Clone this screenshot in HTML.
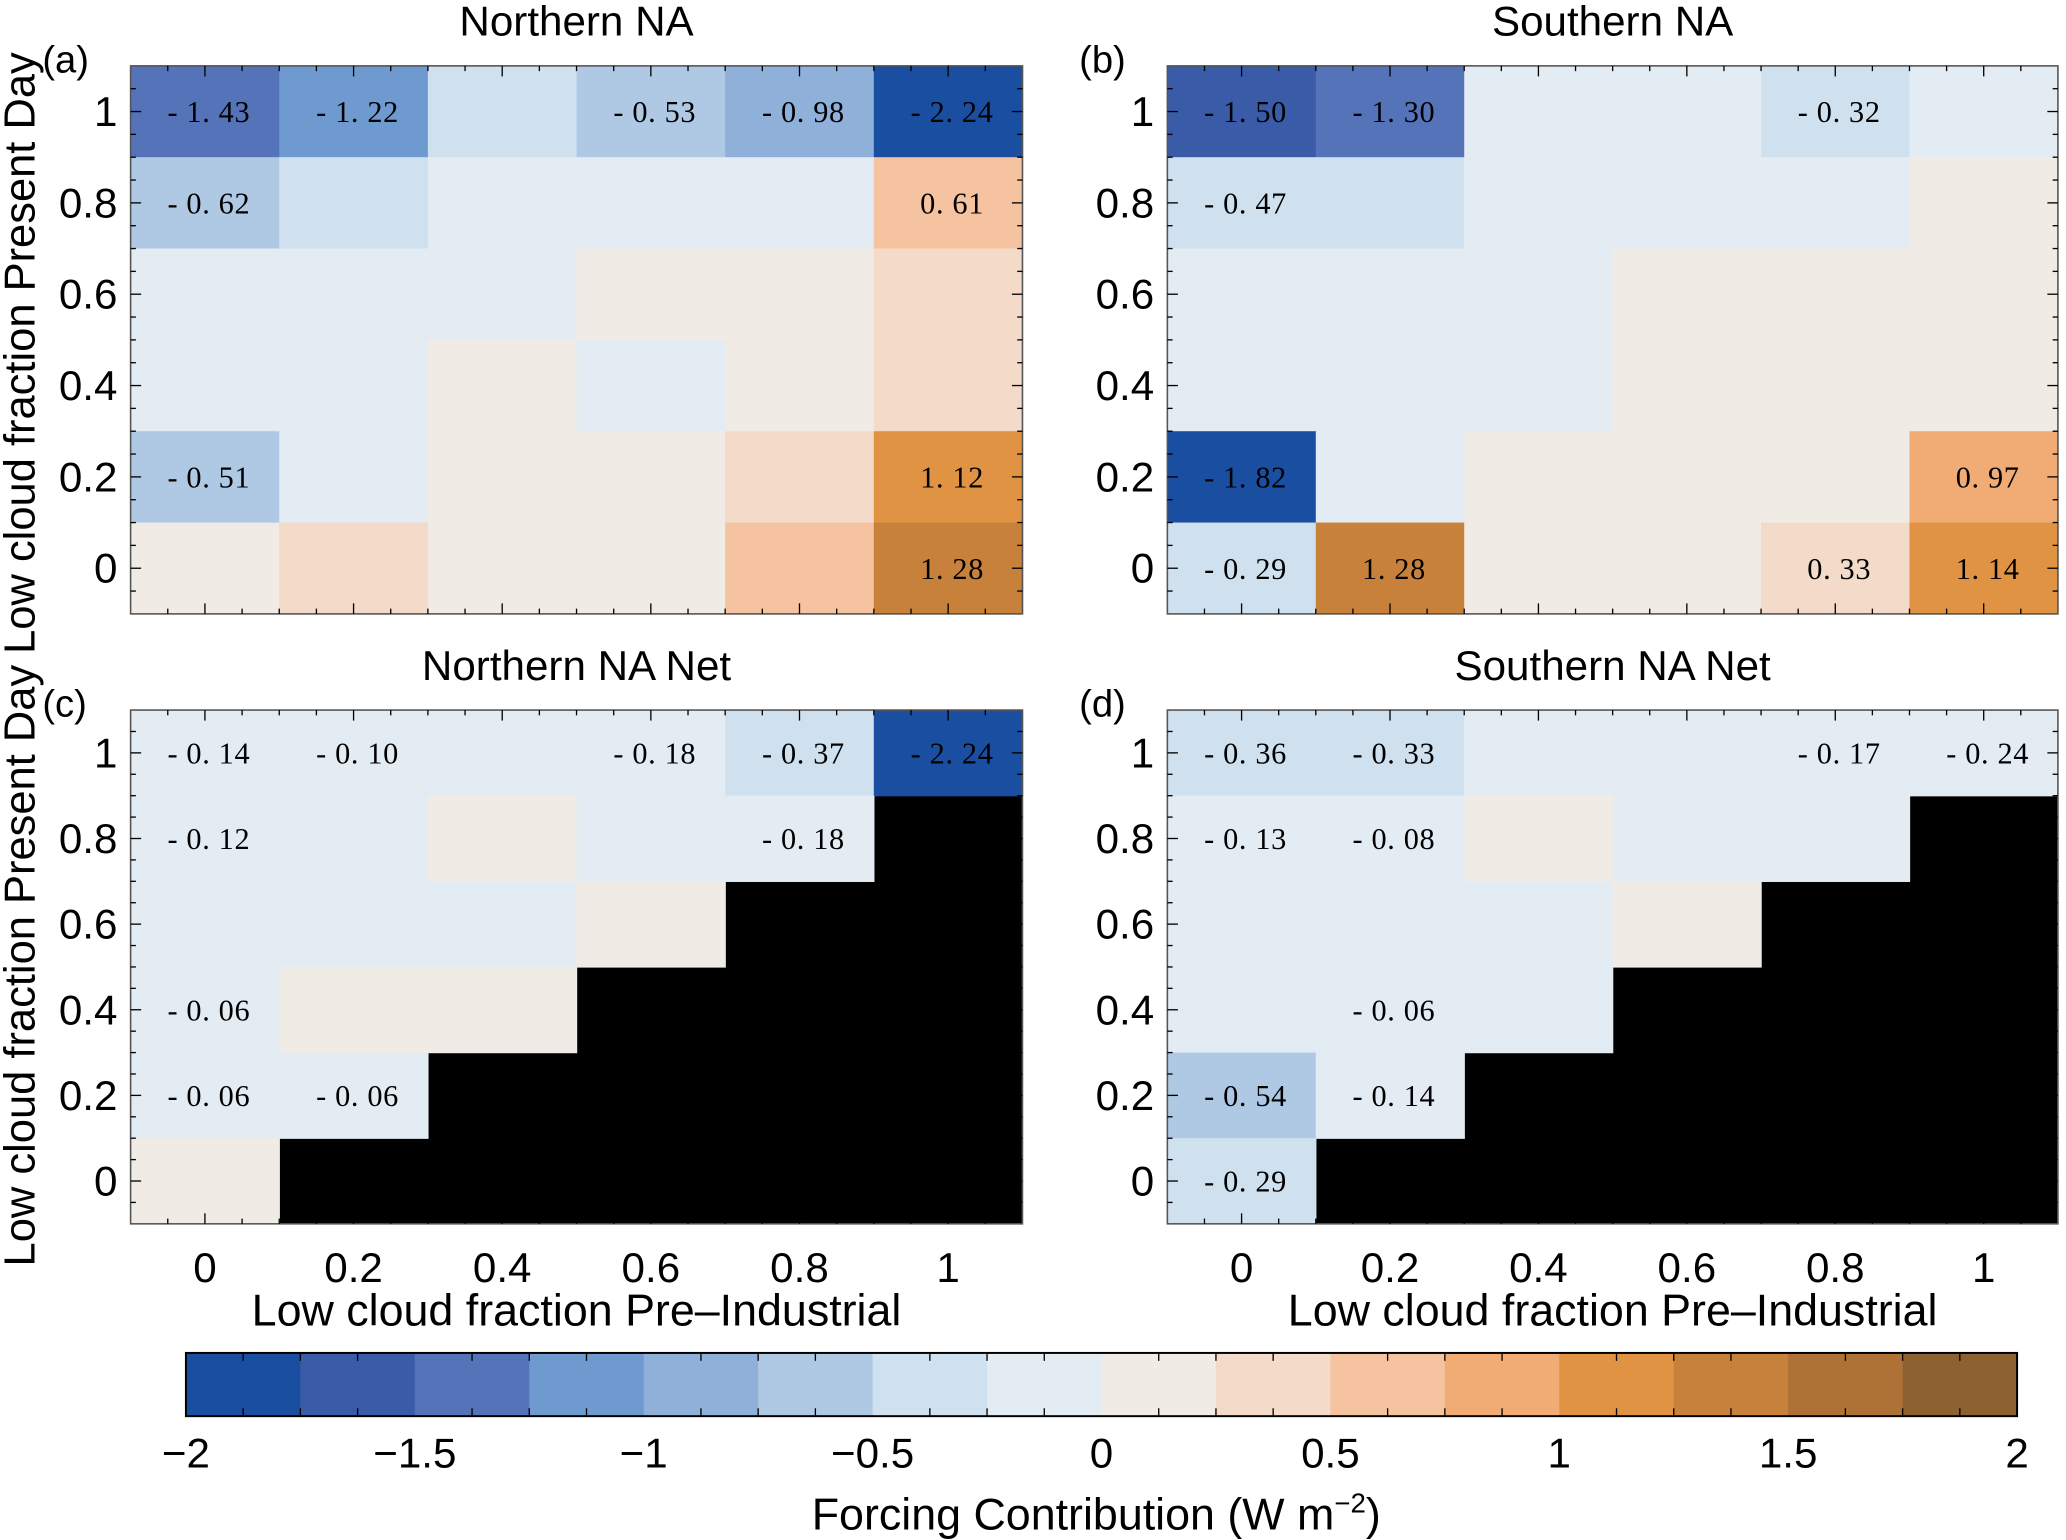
<!DOCTYPE html>
<html><head><meta charset="utf-8"><style>
html,body{margin:0;padding:0;background:#fff;}
svg{display:block;}
</style></head><body>
<svg id="fig" width="2066" height="1540" viewBox="0 0 1568 1169" xmlns="http://www.w3.org/2000/svg" font-family="'Liberation Sans', sans-serif"></svg>
<script>
// ---- data (rows from PD=1 at top to PD=0 at bottom; columns PI=0..1) ----
const xCats = [0, 0.2, 0.4, 0.6, 0.8, 1];
const yCats = [1, 0.8, 0.6, 0.4, 0.2, 0];
const tickLabels = ["0", "0.2", "0.4", "0.6", "0.8", "1"];
const cbTicks = [-2, -1.5, -1, -0.5, 0, 0.5, 1, 1.5, 2];
const cbTickLabels = ["\u22122", "\u22121.5", "\u22121", "\u22120.5", "0", "0.5", "1", "1.5", "2"];
const cbColors = ["#1a4ea0","#3a5ba8","#5473b8","#6e9acf","#8fb0d9","#afc9e4","#cfe1ef","#e4ecf3","#f1ebe5","#f3dac9","#f5c39f","#f0ac74","#e09343","#c8813a","#ae7136","#8e6230"];
const N = null;
const valuesA = [
 [-1.43,-1.22,-0.40,-0.53,-0.98,-2.24],
 [-0.62,-0.35,-0.10,-0.10,-0.10,0.61],
 [-0.10,-0.10,-0.10,0.10,0.10,0.35],
 [-0.10,-0.10,0.10,-0.10,0.10,0.35],
 [-0.51,-0.10,0.10,0.10,0.35,1.12],
 [0.10,0.35,0.10,0.10,0.60,1.28]];
const labelsA = [
 ["-1.43","-1.22","","-0.53","-0.98","-2.24"],
 ["-0.62","","","","","0.61"],
 ["","","","","",""],
 ["","","","","",""],
 ["-0.51","","","","","1.12"],
 ["","","","","","1.28"]];
const valuesB = [
 [-1.51,-1.30,-0.10,-0.10,-0.32,-0.10],
 [-0.47,-0.30,-0.10,-0.10,-0.10,0.10],
 [-0.10,-0.10,-0.10,0.10,0.10,0.10],
 [-0.10,-0.10,-0.10,0.10,0.10,0.10],
 [-1.82,-0.10,0.10,0.10,0.10,0.97],
 [-0.29,1.28,0.10,0.10,0.33,1.14]];
const labelsB = [
 ["-1.50","-1.30","","","-0.32",""],
 ["-0.47","","","","",""],
 ["","","","","",""],
 ["","","","","",""],
 ["-1.82","","","","","0.97"],
 ["-0.29","1.28","","","0.33","1.14"]];
const valuesC = [
 [-0.14,-0.10,-0.05,-0.18,-0.37,-2.24],
 [-0.12,-0.05,0.05,-0.05,-0.18,N],
 [-0.05,-0.05,-0.05,0.05,N,N],
 [-0.06,0.05,0.05,N,N,N],
 [-0.06,-0.06,N,N,N,N],
 [0.05,N,N,N,N,N]];
const labelsC = [
 ["-0.14","-0.10","","-0.18","-0.37","-2.24"],
 ["-0.12","","","","-0.18",""],
 ["","","","","",""],
 ["-0.06","","","","",""],
 ["-0.06","-0.06","","","",""],
 ["","","","","",""]];
const valuesD = [
 [-0.36,-0.33,-0.05,-0.05,-0.17,-0.24],
 [-0.13,-0.08,0.05,-0.05,-0.05,N],
 [-0.05,-0.05,-0.05,0.05,N,N],
 [-0.05,-0.06,-0.05,N,N,N],
 [-0.54,-0.14,N,N,N,N],
 [-0.29,N,N,N,N,N]];
const labelsD = [
 ["-0.36","-0.33","","","-0.17","-0.24"],
 ["-0.13","-0.08","","","",""],
 ["","","","","",""],
 ["","-0.06","","","",""],
 ["-0.54","-0.14","","","",""],
 ["-0.29","","","","",""]];

const svg = document.getElementById('fig');
const NS = "http://www.w3.org/2000/svg";
function mk(tag, attrs, parent){const e=document.createElementNS(NS,tag);for(const k in attrs)e.setAttribute(k,attrs[k]);(parent||svg).appendChild(e);return e;}
function colorFor(v){let i=Math.floor((v+2)/0.25);i=Math.max(0,Math.min(15,i));return cbColors[i];}

const panels = [
 {id:'a', title:'Northern NA', x0:99, x1:776, y0:50, y1:466, vals:valuesA, labs:labelsA, xlab:false, ylab:true},
 {id:'b', title:'Southern NA', x0:886, x1:1562, y0:50, y1:466, vals:valuesB, labs:labelsB, xlab:false, ylab:false},
 {id:'c', title:'Northern NA Net', x0:99, x1:776, y0:539, y1:929, vals:valuesC, labs:labelsC, xlab:true, ylab:true},
 {id:'d', title:'Southern NA Net', x0:886, x1:1562, y0:539, y1:929, vals:valuesD, labs:labelsD, xlab:true, ylab:false}
];

panels.forEach(p=>{
  const g = mk('g',{});
  
  
  const sx = v => p.x0 + (v+0.1)/1.2*(p.x1-p.x0);
  const sy = v => p.y1 - (v+0.1)/1.2*(p.y1-p.y0);
  const bg = mk('rect',{x:p.x0,y:p.y0,width:p.x1-p.x0,height:p.y1-p.y0,fill:'#000'},g);
  
  
  yCats.forEach((yv,r)=>{
    xCats.forEach((xv,c)=>{
      const v = p.vals[r][c];
      if(v===null) return;
      const xa=sx(xv-0.1), xb=sx(xv+0.1), ya=sy(yv+0.1), yb=sy(yv-0.1);
      const cell = mk('rect',{x:xa,y:ya,width:xb-xa+0.5,height:yb-ya+0.5,fill:colorFor(v)},g);
      
      
      const lab = p.labs[r][c];
      if(lab){
        const t = mk('text',{x:sx(xv)+3,y:sy(yv)+8,'text-anchor':'middle','font-family':"'Liberation Serif', serif",'font-size':23,'letter-spacing':'0.5',fill:'#000'},g);
        t.textContent = lab.replace('-','- ').replace('.','. ');
        
        
      }
    });
  });
  const fr = mk('rect',{x:p.x0,y:p.y0,width:p.x1-p.x0,height:p.y1-p.y0,fill:'none',stroke:'#555','stroke-width':1.2},g);
  
  
  for(let k=-2;k<=22;k++){
    const v=k*0.05; if(v<-0.1+1e-9||v>1.1-1e-9) continue;
    const major = Math.abs(v*5-Math.round(v*5))<1e-6;
    const L = major?8:4;
    const X=sx(v), Y=sy(v);
    mk('line',{x1:X,y1:p.y1,x2:X,y2:p.y1-L,stroke:'#000','stroke-width':1},g);
    mk('line',{x1:X,y1:p.y0,x2:X,y2:p.y0+L,stroke:'#000','stroke-width':1},g);
    mk('line',{x1:p.x0,y1:Y,x2:p.x0+L,y2:Y,stroke:'#000','stroke-width':1},g);
    mk('line',{x1:p.x1,y1:Y,x2:p.x1-L,y2:Y,stroke:'#000','stroke-width':1},g);
  }
  xCats.forEach((v,i)=>{
    const t=mk('text',{x:p.x0-10,y:sy(v)+11,'text-anchor':'end','font-size':32},g);
    t.textContent=tickLabels[i];
    
    
    if(p.xlab){
      const u=mk('text',{x:sx(v),y:p.y1+44,'text-anchor':'middle','font-size':32},g);
      u.textContent=tickLabels[i];
      
      
    }
  });
  const tt=mk('text',{x:(p.x0+p.x1)/2,y:p.y0-23,'text-anchor':'middle','font-size':32},g);
  tt.textContent=p.title;
  
  
  const pl=mk('text',{x:p.x0-67,y:p.y0+5,'font-size':29},g);
  pl.textContent='('+p.id+')';
  
  
  if(p.xlab){
    const xt=mk('text',{x:(p.x0+p.x1)/2,y:p.y1+77,'text-anchor':'middle','font-size':34},g);
    xt.textContent='Low cloud fraction Pre\u2013Industrial';
    
    
  }
  if(p.ylab){
    const cy=(p.id==='a')?268:733;
    const yt=mk('text',{x:0,y:0,'text-anchor':'middle','font-size':33,transform:`translate(26,${cy}) rotate(-90)`},g);
    yt.textContent='Low cloud fraction Present Day';
    
    
  }
});

const cb = mk('g',{});


const cbx0=141, cbx1=1531, cby0=1027, cby1=1075;
const cx = v => cbx0 + (v+2)/4*(cbx1-cbx0);
cbColors.forEach((c,i)=>{
  const v=-2+i*0.25;
  const r=mk('rect',{x:cx(v),y:cby0,width:cx(v+0.25)-cx(v)+0.5,height:cby1-cby0,fill:c},cb);
  
  
});
for(let k=0;k<=32;k++){
  const v=-2+k*0.125, X=cx(v);
  const L=(k%4===0)?0:6;
  if(L){mk('line',{x1:X,y1:cby0,x2:X,y2:cby0+L,stroke:'#000','stroke-width':1},cb);
  mk('line',{x1:X,y1:cby1,x2:X,y2:cby1-L,stroke:'#000','stroke-width':1},cb);}
}
mk('rect',{x:cbx0,y:cby0,width:cbx1-cbx0,height:cby1-cby0,fill:'none',stroke:'#000','stroke-width':1.5},cb);
cbTicks.forEach((v,i)=>{
  const t=mk('text',{x:cx(v),y:cby1+39,'text-anchor':'middle','font-size':32},cb);
  t.textContent=cbTickLabels[i];
  
  
});
const ct=mk('text',{x:832,y:1161,'text-anchor':'middle','font-size':34},cb);
ct.innerHTML='Forcing Contribution  (W m<tspan dy="-13" font-size="21">\u22122</tspan><tspan dy="13">)</tspan>';


</script>
</body></html>
